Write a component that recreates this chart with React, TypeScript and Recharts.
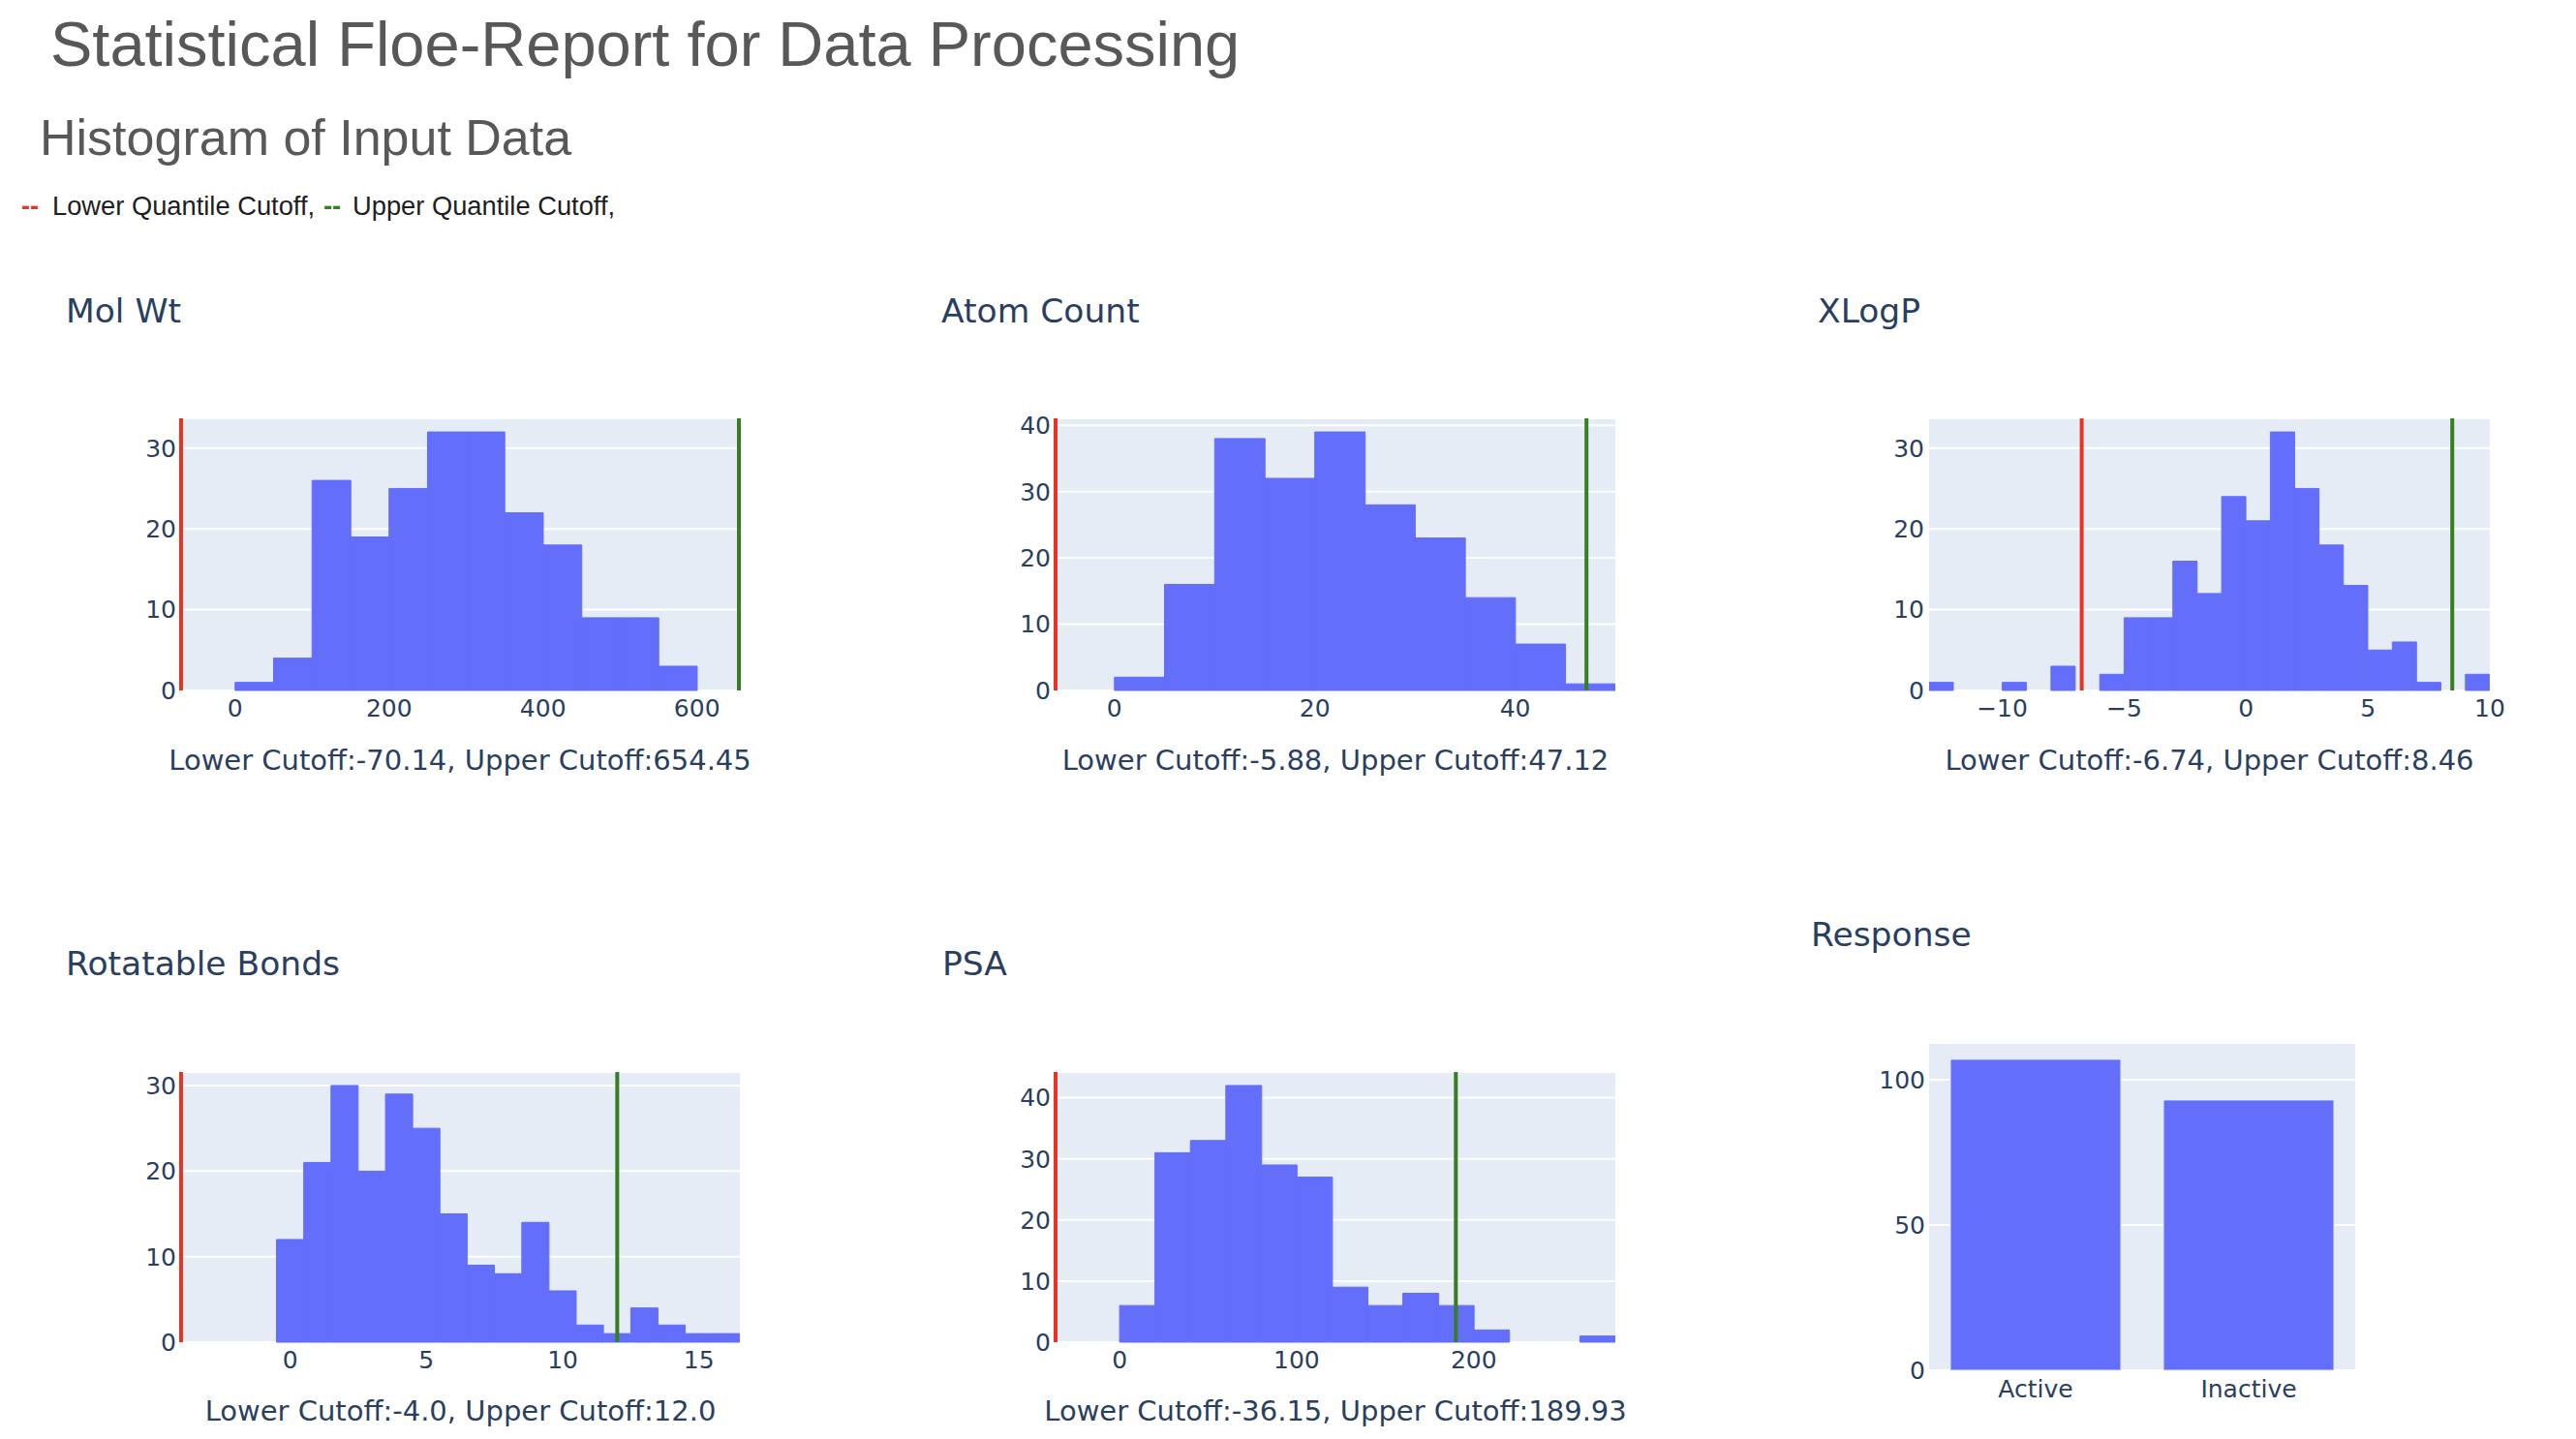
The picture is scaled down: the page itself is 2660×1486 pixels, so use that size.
import React from "react";
import { BarChart, Bar, XAxis, YAxis, CartesianGrid, ReferenceLine } from "recharts";

const BAR_COLOR = "#636efa";
const PLOT_BG = "#e5ecf6";
const AXIS_TEXT = "#2a3f5f";
const LOWER_COLOR = "#ea3323";
const UPPER_COLOR = "#377d22";
const PLOT_FONT = "'DejaVu Sans', Verdana, sans-serif";
const PAGE_FONT = "'Liberation Sans', Arial, Helvetica, sans-serif";

// counts per histogram bin
const molWtCounts = [1, 4, 26, 19, 25, 32, 32, 22, 18, 9, 9, 3];
const atomCountCounts = [2, 16, 38, 32, 39, 28, 23, 14, 7, 1];
const xlogpCounts = [1, 0, 0, 1, 0, 3, 0, 2, 9, 9, 16, 12, 24, 21, 32, 25, 18, 13, 5, 6, 1, 0, 2];
const rotBondsCounts = [12, 21, 30, 20, 29, 25, 15, 9, 8, 14, 6, 2, 1, 4, 2, 1, 1];
const psaCounts = [6, 31, 33, 42, 29, 27, 9, 6, 8, 6, 2, 0, 0, 1];

// [first bin edge, bin width]
const molWtBins = [0, 50];
const atomCountBins = [0, 5];
const xlogpBins = [-13, 1];
const rotBondsBins = [-0.5, 1];
const psaBins = [0, 20];

// [lower, upper] quantile cutoffs
const molWtCutoffs = [-70.14, 654.45];
const atomCountCutoffs = [-5.88, 47.12];
const xlogpCutoffs = [-6.74, 8.46];
const rotBondsCutoffs = [-4.0, 12.0];
const psaCutoffs = [-36.15, 189.93];

const molWtXTicks = [0, 200, 400, 600];
const atomCountXTicks = [0, 20, 40];
const xlogpXTicks = [-10, -5, 0, 5, 10];
const rotBondsXTicks = [0, 5, 10, 15];
const psaXTicks = [0, 100, 200];

const molWtYTicks = [0, 10, 20, 30];
const atomCountYTicks = [0, 10, 20, 30, 40];
const xlogpYTicks = [0, 10, 20, 30];
const rotBondsYTicks = [0, 10, 20, 30];
const psaYTicks = [0, 10, 20, 30, 40];

const molWtLabel = "Lower Cutoff:-70.14, Upper Cutoff:654.45";
const atomCountLabel = "Lower Cutoff:-5.88, Upper Cutoff:47.12";
const xlogpLabel = "Lower Cutoff:-6.74, Upper Cutoff:8.46";
const rotBondsLabel = "Lower Cutoff:-4.0, Upper Cutoff:12.0";
const psaLabel = "Lower Cutoff:-36.15, Upper Cutoff:189.93";

const responseCategories = ["Active", "Inactive"];
const responseCounts = [107, 93];
const responseYTicks = [0, 50, 100];

type Rect = { x: number; y: number; w: number; h: number };

const fmtTick = (v: number) => (v < 0 ? `\u2212${Math.abs(v)}` : `${v}`);
const tickStyle = { fontFamily: PLOT_FONT, fontSize: 25, fill: AXIS_TEXT };

interface HistProps {
  counts: number[];
  bins: number[];
  cutoffs: number[];
  xTicks: number[];
  yTicks: number[];
  plot: Rect;
}

const Histogram = ({ counts, bins, cutoffs, xTicks, yTicks, plot }: HistProps) => {
  const [start, width] = bins;
  const data = counts.map((c, i) => ({ x: start + width * (i + 0.5), count: c }));
  const end = start + width * counts.length;
  const domain = [Math.min(start, cutoffs[0]), Math.max(end, cutoffs[1])];
  const yMax = Math.max(...counts) / 0.95;

  return (
    <div style={{ position: "absolute", left: plot.x - 120, top: plot.y - 20 }}>
      <BarChart
        width={plot.w + 140}
        height={plot.h + 80}
        data={data}
        margin={{ top: 20, right: 20, bottom: 20, left: 60 }}
        barCategoryGap={0}
        barGap={0}
      >
        <CartesianGrid fill={PLOT_BG} stroke="#ffffff" strokeWidth={2} vertical={false} />
        <XAxis
          dataKey="x"
          type="number"
          domain={domain}
          allowDataOverflow
          ticks={xTicks}
          interval={0}
          tickFormatter={fmtTick}
          axisLine={false}
          tickLine={false}
          tickSize={0}
          tickMargin={9}
          height={40}
          tick={tickStyle}
        />
        <YAxis
          type="number"
          domain={[0, yMax]}
          ticks={yTicks}
          interval={0}
          axisLine={false}
          tickLine={false}
          tickSize={0}
          tickMargin={5}
          width={60}
          tick={tickStyle}
        />
        <Bar dataKey="count" fill={BAR_COLOR} stroke={BAR_COLOR} strokeWidth={1} isAnimationActive={false} />
        <ReferenceLine x={cutoffs[0]} stroke={LOWER_COLOR} strokeWidth={4} />
        <ReferenceLine x={cutoffs[1]} stroke={UPPER_COLOR} strokeWidth={4} />
      </BarChart>
    </div>
  );
};

const ResponseChart = ({ plot }: { plot: Rect }) => {
  const data = responseCategories.map((name, i) => ({ name, count: responseCounts[i] }));
  const yMax = Math.max(...responseCounts) / 0.95;
  return (
    <div style={{ position: "absolute", left: plot.x - 120, top: plot.y - 20 }}>
      <BarChart
        width={plot.w + 140}
        height={plot.h + 80}
        data={data}
        margin={{ top: 20, right: 20, bottom: 20, left: 60 }}
        barCategoryGap="10%"
      >
        <CartesianGrid fill={PLOT_BG} stroke="#ffffff" strokeWidth={2} vertical={false} />
        <XAxis
          dataKey="name"
          axisLine={false}
          tickLine={false}
          tickSize={0}
          tickMargin={10}
          height={40}
          tick={tickStyle}
        />
        <YAxis
          type="number"
          domain={[0, yMax]}
          ticks={responseYTicks}
          interval={0}
          axisLine={false}
          tickLine={false}
          tickSize={0}
          tickMargin={4}
          width={60}
          tick={tickStyle}
        />
        <Bar dataKey="count" fill={BAR_COLOR} stroke={PLOT_BG} strokeWidth={1} isAnimationActive={false} />
      </BarChart>
    </div>
  );
};

const molWtPlot = { x: 187, y: 432, w: 576, h: 281 };
const atomCountPlot = { x: 1090, y: 432, w: 578, h: 281 };
const xlogpPlot = { x: 1992, y: 432, w: 579, h: 281 };
const rotBondsPlot = { x: 187, y: 1107, w: 577, h: 279 };
const psaPlot = { x: 1090, y: 1107, w: 578, h: 279 };
const responsePlot = { x: 1992, y: 1077, w: 440, h: 338 };

const subTitle = { fontFamily: PLOT_FONT, fontSize: 34.5, fill: AXIS_TEXT };
const cutoffText = { fontFamily: PLOT_FONT, fontSize: 29, fill: AXIS_TEXT };
const legendText = { fontFamily: PAGE_FONT, fontSize: 27.3, fill: "#1e1e1e" };

export default function App() {
  const center = (p: Rect) => p.x + p.w / 2;
  return (
    <div style={{ position: "absolute", left: 0, top: 0, width: 2660, height: 1486, background: "#ffffff" }}>
      <Histogram counts={molWtCounts} bins={molWtBins} cutoffs={molWtCutoffs} xTicks={molWtXTicks} yTicks={molWtYTicks} plot={molWtPlot} />
      <Histogram counts={atomCountCounts} bins={atomCountBins} cutoffs={atomCountCutoffs} xTicks={atomCountXTicks} yTicks={atomCountYTicks} plot={atomCountPlot} />
      <Histogram counts={xlogpCounts} bins={xlogpBins} cutoffs={xlogpCutoffs} xTicks={xlogpXTicks} yTicks={xlogpYTicks} plot={xlogpPlot} />
      <Histogram counts={rotBondsCounts} bins={rotBondsBins} cutoffs={rotBondsCutoffs} xTicks={rotBondsXTicks} yTicks={rotBondsYTicks} plot={rotBondsPlot} />
      <Histogram counts={psaCounts} bins={psaBins} cutoffs={psaCutoffs} xTicks={psaXTicks} yTicks={psaYTicks} plot={psaPlot} />
      <ResponseChart plot={responsePlot} />

      <svg width={2660} height={1486} style={{ position: "absolute", left: 0, top: 0, pointerEvents: "none" }}>
        <text x={52} y={68} style={{ fontFamily: PAGE_FONT, fontSize: 65, fill: "#58585b" }}>
          Statistical Floe-Report for Data Processing
        </text>
        <text x={41} y={160} style={{ fontFamily: PAGE_FONT, fontSize: 52, fill: "#58585b" }}>
          Histogram of Input Data
        </text>
        <text x={22} y={222} style={{ ...legendText, fill: LOWER_COLOR, fontWeight: 700 }}>--</text>
        <text x={54} y={222} style={legendText}>Lower Quantile Cutoff,</text>
        <text x={334} y={222} style={{ ...legendText, fill: UPPER_COLOR, fontWeight: 700 }}>--</text>
        <text x={364} y={222} style={legendText}>Upper Quantile Cutoff,</text>

        <text x={68} y={333} style={subTitle}>Mol Wt</text>
        <text x={972} y={333} style={subTitle}>Atom Count</text>
        <text x={1877} y={333} style={subTitle}>XLogP</text>
        <text x={68} y={1007} style={subTitle}>Rotatable Bonds</text>
        <text x={973} y={1007} style={subTitle}>PSA</text>
        <text x={1870} y={977} style={subTitle}>Response</text>

        <text x={center(molWtPlot)} y={795} textAnchor="middle" style={cutoffText}>{molWtLabel}</text>
        <text x={center(atomCountPlot)} y={795} textAnchor="middle" style={cutoffText}>{atomCountLabel}</text>
        <text x={center(xlogpPlot)} y={795} textAnchor="middle" style={cutoffText}>{xlogpLabel}</text>
        <text x={center(rotBondsPlot)} y={1467} textAnchor="middle" style={cutoffText}>{rotBondsLabel}</text>
        <text x={center(psaPlot)} y={1467} textAnchor="middle" style={cutoffText}>{psaLabel}</text>
      </svg>
    </div>
  );
}
